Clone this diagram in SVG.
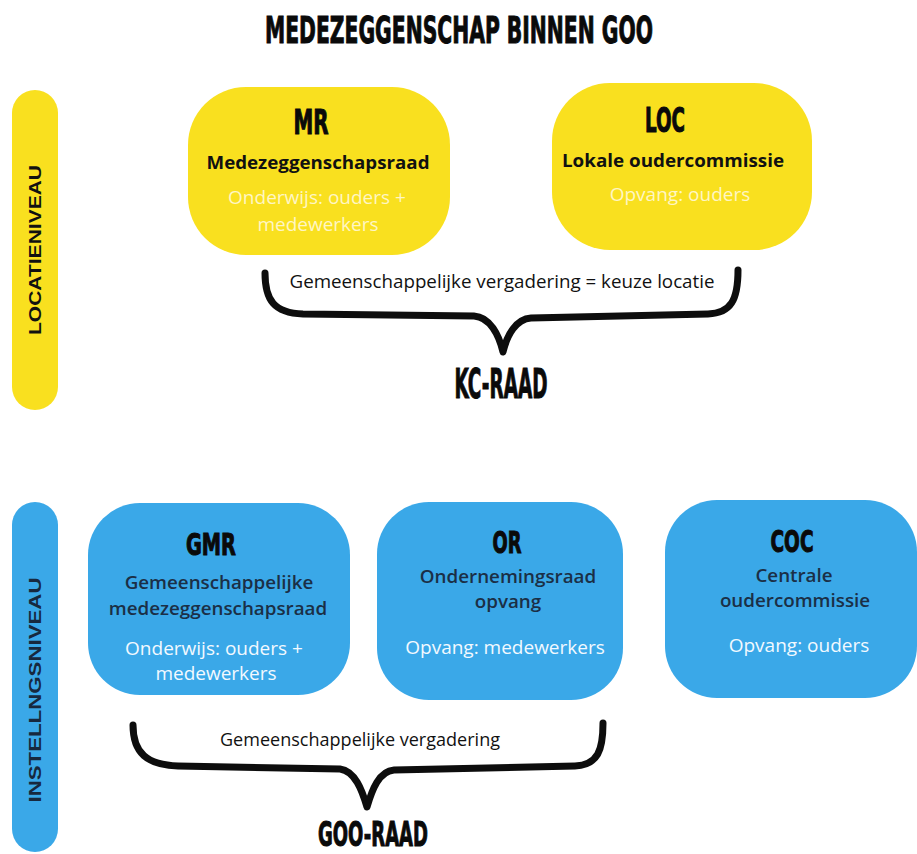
<svg xmlns="http://www.w3.org/2000/svg" width="917" height="854" viewBox="0 0 917 854">
<style>
.bg{fill:#ffffff}
.ybox{fill:#F9E01F}
.bbox{fill:#3AA8E8}
.heavy{font-family:"DejaVu Sans Condensed","Liberation Sans",sans-serif;font-weight:bold;fill:#0a0a0a;stroke:#0a0a0a;stroke-width:1;text-anchor:middle}
.sub{font-family:"Open Sans","Liberation Sans",sans-serif;font-weight:bold;font-size:17.5px;fill:#111111;text-anchor:middle}
.subb{font-family:"Open Sans","Liberation Sans",sans-serif;font-weight:600;font-size:18.8px;fill:#1B2F46;text-anchor:middle}
.wt{font-family:"Open Sans","Liberation Sans",sans-serif;font-size:19px;text-anchor:middle}
.wy{fill:#FFF6C4}
.wb{fill:#F2F9FF}
.lbl{font-family:"Open Sans","Liberation Sans",sans-serif;font-size:18.5px;fill:#111111;text-anchor:middle}
.side{font-family:"Liberation Sans","Open Sans",sans-serif;font-weight:bold;font-size:17px;text-anchor:middle}
.brace{fill:none;stroke:#0d0d0d;stroke-width:7;stroke-linecap:round;stroke-linejoin:round}
</style>
<rect class="bg" x="0" y="0" width="917" height="854"/>
<text class="heavy" x="459" y="43" font-size="38" textLength="388" lengthAdjust="spacingAndGlyphs">MEDEZEGGENSCHAP BINNEN GOO</text>

<g id="bar-locatie">
<rect x="12" y="90" width="46" height="320" rx="23" fill="#F9E01F"/>
<text class="side" fill="#111111" transform="translate(41,250) rotate(-90)" textLength="170" lengthAdjust="spacingAndGlyphs">LOCATIENIVEAU</text>
</g>
<g id="bar-instelling">
<rect x="12" y="502" width="46" height="350" rx="23" fill="#3AA8E8"/>
<text class="side" fill="#17293E" transform="translate(41,690) rotate(-90)" textLength="225" lengthAdjust="spacingAndGlyphs">INSTELLNGSNIVEAU</text>
</g>

<g id="node-mr">
<rect class="ybox" x="188" y="87" width="262" height="168" rx="58"/>
<text class="heavy" x="311" y="134" font-size="33" textLength="35" lengthAdjust="spacingAndGlyphs">MR</text>
<text class="sub" x="318" y="169" textLength="223" lengthAdjust="spacingAndGlyphs">Medezeggenschapsraad</text>
<text class="wt wy" x="317" y="204">Onderwijs: ouders +</text>
<text class="wt wy" x="318" y="231">medewerkers</text>
</g>

<g id="node-loc">
<rect class="ybox" x="552" y="83" width="260" height="167" rx="58"/>
<text class="heavy" x="665" y="132" font-size="33" textLength="40" lengthAdjust="spacingAndGlyphs">LOC</text>
<text class="sub" x="673" y="167" textLength="222" lengthAdjust="spacingAndGlyphs">Lokale oudercommissie</text>
<text class="wt wy" x="680" y="201">Opvang: ouders</text>
</g>

<g id="node-gmr">
<rect class="bbox" x="88" y="503" width="262" height="192" rx="52"/>
<text class="heavy" x="211" y="555" font-size="30" textLength="50" lengthAdjust="spacingAndGlyphs">GMR</text>
<text class="subb" x="219" y="589">Gemeenschappelijke</text>
<text class="subb" x="218" y="615">medezeggenschapsraad</text>
<text class="wt wb" x="214" y="655">Onderwijs: ouders +</text>
<text class="wt wb" x="216" y="680">medewerkers</text>
</g>

<g id="node-or">
<rect class="bbox" x="377" y="502" width="246" height="198" rx="52"/>
<text class="heavy" x="507" y="553" font-size="30" textLength="29" lengthAdjust="spacingAndGlyphs">OR</text>
<text class="subb" x="508" y="583">Ondernemingsraad</text>
<text class="subb" x="508" y="608">opvang</text>
<text class="wt wb" x="505" y="654">Opvang: medewerkers</text>
</g>

<g id="node-coc">
<rect class="bbox" x="665" y="500" width="252" height="198" rx="52"/>
<text class="heavy" x="792" y="552" font-size="30" textLength="43" lengthAdjust="spacingAndGlyphs">COC</text>
<text class="subb" x="794" y="582">Centrale</text>
<text class="subb" x="795" y="607">oudercommissie</text>
<text class="wt wb" x="799" y="652">Opvang: ouders</text>
</g>

<g id="connectors">
<path class="brace" d="M265,273 C265,300 274,313 303,314 L474,316 C490,317 499,335 503,352 C507,335 516,319 531,318 L708,314 C731,313 738,300 738,270"/>
<path class="brace" d="M133,725 C133,753 147,765 178,766 L340,769 C355,771 362,790 367,807 C372,790 379,771 394,770 L575,766 C598,765 603,750 603,723"/>
</g>

<g id="label-kc">
<text class="lbl" x="502" y="288" textLength="425" lengthAdjust="spacingAndGlyphs">Gemeenschappelijke vergadering = keuze locatie</text>
<text class="heavy" x="501" y="398" font-size="40" textLength="93" lengthAdjust="spacingAndGlyphs">KC-RAAD</text>
</g>
<g id="label-goo">
<text class="lbl" x="360" y="746" textLength="280" lengthAdjust="spacingAndGlyphs">Gemeenschappelijke vergadering</text>
<text class="heavy" x="373" y="846" font-size="33" textLength="110" lengthAdjust="spacingAndGlyphs">GOO-RAAD</text>
</g>
</svg>
